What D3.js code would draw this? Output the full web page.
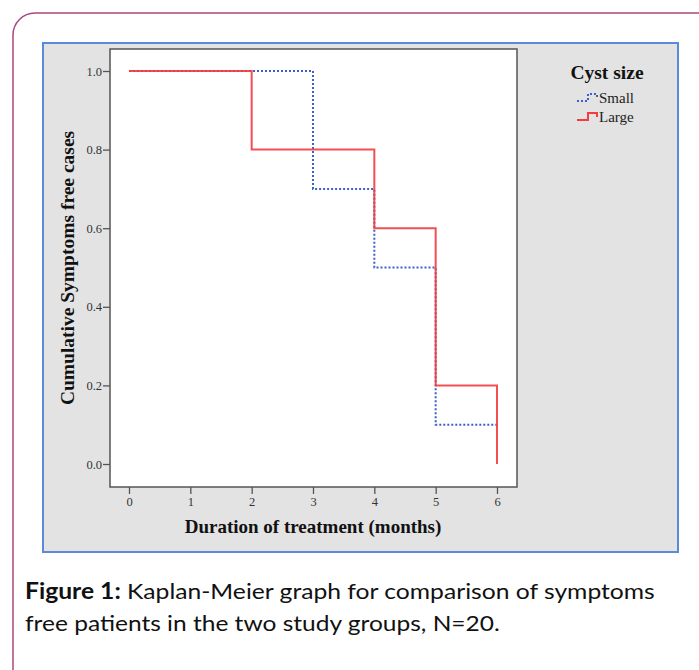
<!DOCTYPE html>
<html>
<head>
<meta charset="utf-8">
<script src="https://cdn.jsdelivr.net/npm/d3@7"></script>
<style>
  html, body { margin: 0; padding: 0; background: #fff; }
  svg { display: block; }
</style>
</head>
<body>
<div id="container"></div>
<script>
/**
 * DATA
 * */
const monthTicks = [0, 1, 2, 3, 4, 5, 6];
const survTicks = [0.0, 0.2, 0.4, 0.6, 0.8, 1.0];

// Kaplan-Meier steps
const smallMonths = [0, 3, 4, 5, 6];
const smallSurv = [1.0, 0.7, 0.5, 0.1, 0.1];
const largeMonths = [0, 2, 4, 5, 6, 6];
const largeSurv = [1.0, 0.8, 0.6, 0.2, 0.2, 0.0];

const groups = ["Small", "Large"];
const groupColors = ["#3f5fc8", "#f23c3f"];

/**
 * LAYOUT
 * */
const width = 699, height = 670;
const plot = { left: 110, top: 49, right: 517, bottom: 487 };

const svg = d3.select("#container")
  .append("svg")
  .attr("width", width)
  .attr("height", height);

// card frame
svg.append("rect")
  .attr("x", 13).attr("y", 13)
  .attr("width", 720).attr("height", 700)
  .attr("rx", 22)
  .attr("fill", "#fff")
  .attr("stroke", "#a8487f")
  .attr("stroke-width", 1.5);

// grey chart panel
svg.append("rect")
  .attr("x", 43).attr("y", 43)
  .attr("width", 635).attr("height", 509)
  .attr("fill", "#e3e3e3")
  .attr("stroke", "#5b8bd6")
  .attr("stroke-width", 2);

// plot box
svg.append("rect")
  .attr("x", plot.left).attr("y", plot.top)
  .attr("width", plot.right - plot.left)
  .attr("height", plot.bottom - plot.top)
  .attr("fill", "#fff")
  .attr("stroke", "#555")
  .attr("stroke-width", 1.5);

const x = d3.scaleLinear().domain([0, 6]).range([129, 497]);
const y = d3.scaleLinear().domain([0, 1]).range([464, 71]);

// axes
const xAxis = svg.append("g")
  .attr("transform", `translate(0,${plot.bottom})`)
  .call(d3.axisBottom(x).tickValues(monthTicks).tickFormat(d3.format("d")).tickSize(7).tickPadding(3));

const yAxis = svg.append("g")
  .attr("transform", `translate(${plot.left},0)`)
  .call(d3.axisLeft(y).tickValues(survTicks).tickFormat(d3.format(".1f")).tickSize(7).tickPadding(1));

[xAxis, yAxis].forEach(g => {
  g.select(".domain").remove();
  g.selectAll("line").attr("stroke", "#555").attr("stroke-width", 1.3);
  g.selectAll("text")
    .attr("font-family", "'Liberation Serif', serif")
    .attr("font-size", 12.5)
    .attr("fill", "#333");
});

// curves
const line = d3.line()
  .x(d => x(d[0]))
  .y(d => y(d[1]))
  .curve(d3.curveStepAfter);

const series = [
  d3.zip(smallMonths, smallSurv),
  d3.zip(largeMonths, largeSurv)
];

svg.selectAll(".km")
  .data(series)
  .join("path")
  .attr("class", "km")
  .attr("d", d => line(d))
  .attr("fill", "none")
  .attr("stroke", (d, i) => groupColors[i])
  .attr("stroke-width", 2)
  .attr("stroke-dasharray", (d, i) => i === 0 ? "2,2" : null)
  .attr("stroke-opacity", (d, i) => i === 0 ? 1 : 0.9);

// axis titles
svg.append("text")
  .attr("x", 313).attr("y", 533)
  .attr("text-anchor", "middle")
  .attr("font-family", "'Liberation Serif', serif")
  .attr("font-weight", "bold")
  .attr("font-size", 19)
  .attr("fill", "#111")
  .text("Duration of treatment (months)");

svg.append("text")
  .attr("transform", "translate(74,268) rotate(-90)")
  .attr("text-anchor", "middle")
  .attr("font-family", "'Liberation Serif', serif")
  .attr("font-weight", "bold")
  .attr("font-size", 19.5)
  .attr("fill", "#111")
  .text("Cumulative Symptoms free cases");

// legend
svg.append("text")
  .attr("x", 607).attr("y", 79)
  .attr("text-anchor", "middle")
  .attr("font-family", "'Liberation Serif', serif")
  .attr("font-weight", "bold")
  .attr("font-size", 19.5)
  .attr("fill", "#111")
  .text("Cyst size");

const legendRows = svg.selectAll(".legend-row")
  .data(groups)
  .join("g")
  .attr("class", "legend-row")
  .attr("transform", (d, i) => `translate(577,${98 + i * 19})`);

legendRows.append("path")
  .attr("d", "M0,3 H11 V-4 H20 V0")
  .attr("fill", "none")
  .attr("stroke", (d, i) => groupColors[i])
  .attr("stroke-width", 2)
  .attr("stroke-dasharray", (d, i) => i === 0 ? "2,2" : null);

legendRows.append("text")
  .attr("x", 22).attr("y", 5)
  .attr("font-family", "'Liberation Serif', serif")
  .attr("font-size", 15)
  .attr("fill", "#222")
  .text(d => d);

// caption
const captionLines = [
  [["Figure 1:", true], [" Kaplan-Meier graph for comparison of symptoms", false]],
  [["free patients in the two study groups, N=20.", false]]
];
const captionWidths = [630, 475];

captionLines.forEach((parts, i) => {
  const t = svg.append("text")
    .attr("x", 25).attr("y", 599 + i * 32)
    .attr("font-family", "Lato, 'Open Sans', sans-serif")
    .attr("font-size", 22)
    .attr("fill", "#111");
  parts.forEach(([s, b]) => {
    t.append("tspan").attr("font-weight", b ? "bold" : "normal").text(s);
  });
  const w = t.node().getComputedTextLength();
  const k = captionWidths[i] / w;
  t.attr("transform", `translate(25,0) scale(${k},1) translate(-25,0)`);
});
</script>
</body>
</html>
